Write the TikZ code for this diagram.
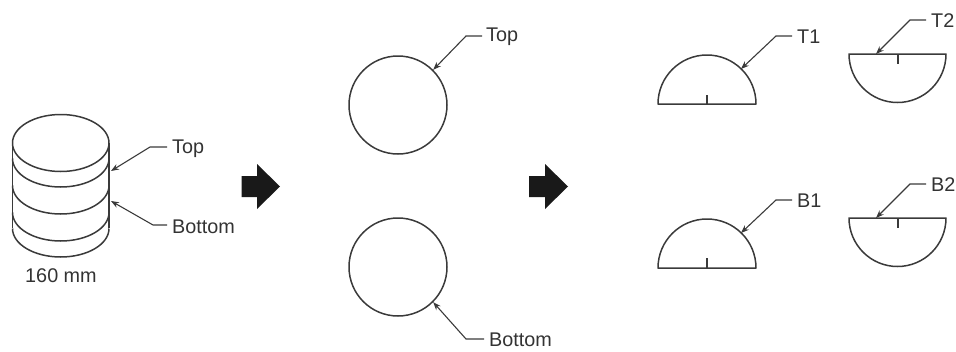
\documentclass[tikz,border=0pt]{standalone}
\usepackage{fontspec}
\setmainfont{Liberation Sans}
\definecolor{ink}{HTML}{3A3A3A}
\definecolor{txt}{HTML}{333333}
\usetikzlibrary{arrows.meta}
\tikzset{
  outline/.style={draw=ink,line width=1.5pt,line join=round},
  leader/.style={draw=ink,line width=1.1pt,-{Stealth[length=8pt,width=6pt,fill=black]}},
  lbl/.style={font=\fontsize{19.8}{22}\selectfont,text=txt,inner sep=0pt},
  bigarrow/.style={fill=black!90,draw=none},
  discshape/.style={outline,circle,minimum size=98pt,inner sep=0pt}
}
\begin{document}
\begin{tikzpicture}[x=1pt,y=-1pt]
\useasboundingbox (0,0) rectangle (956,351);
% cylinder
\draw[outline] (12.5,143) -- (12.5,228) (109,143) -- (109,228);
\draw[outline] (60.75,143) ellipse [x radius=48.25,y radius=28.5];
\foreach \yy in {158.5,185.5,212.5,228.5}
  \draw[outline] (12.5,\yy) arc [start angle=180,end angle=0,x radius=48.25,y radius=28.5];
\coordinate (cylTop) at (111,171);
\coordinate (cylBot) at (111,201);
\node[lbl,anchor=west] (ltop) at (172,148.5) {Top};
\node[lbl,anchor=west] (lbot) at (172,226.5) {Bottom};
\node[lbl,anchor=center] (ldia) at (61,276) {160 mm};
\draw[leader] (ltop.west) ++(-5,-1.5) -- ++(-17,0) -- (cylTop);
\draw[leader] (lbot.west) ++(-5,-1.5) -- ++(-14,0) -- (cylBot);
% block arrows
\fill[bigarrow] (241.5,176) -- (257,176) -- (257,164) -- (280,186.5) -- (257,209) -- (257,197) -- (241.5,197) -- cycle;
\fill[bigarrow] (529,176) -- (545,176) -- (545,164) -- (568,186.5) -- (545,209) -- (545,197) -- (529,197) -- cycle;
% discs
\node[discshape] (d1) at (398,105) {};
\node[discshape] (d2) at (398,267) {};
\node[lbl,anchor=west] (dtop) at (486,37) {Top};
\node[lbl,anchor=west] (dbot) at (489,340) {Bottom};
\draw[leader] (dtop.west) ++(-4,-1) -- ++(-16,0) -- (d1.45);
\draw[leader] (dbot.west) ++(-5,-1) -- ++(-18,0) -- (d2.-45);
% half discs
\draw[outline] (658,104) arc [start angle=180,end angle=360,radius=49] -- cycle;
\draw[outline] (707,104) -- (707,95);
\draw[outline] (849,54) arc [start angle=180,end angle=0,radius=48.5] -- cycle;
\draw[outline] (898,54) -- (898,64);
\draw[outline] (658,268) arc [start angle=180,end angle=360,radius=49] -- cycle;
\draw[outline] (707,268) -- (707,258);
\draw[outline] (849,218) arc [start angle=180,end angle=0,radius=48.5] -- cycle;
\draw[outline] (898,218) -- (898,228);
\coordinate (t1p) at (741,69);
\coordinate (t2p) at (876,54);
\coordinate (b1p) at (741,233);
\coordinate (b2p) at (876,218);
\node[lbl,anchor=west] (t1) at (797,37) {T1};
\node[lbl,anchor=west] (t2) at (931,21) {T2};
\node[lbl,anchor=west] (b1) at (797,201) {B1};
\node[lbl,anchor=west] (b2) at (931,185) {B2};
\draw[leader] (t1.west) ++(-5,-1) -- ++(-16,0) -- (t1p);
\draw[leader] (t2.west) ++(-5,-1) -- ++(-16,0) -- (t2p);
\draw[leader] (b1.west) ++(-5,-1) -- ++(-16,0) -- (b1p);
\draw[leader] (b2.west) ++(-5,-1) -- ++(-16,0) -- (b2p);
\end{tikzpicture}
\end{document}
